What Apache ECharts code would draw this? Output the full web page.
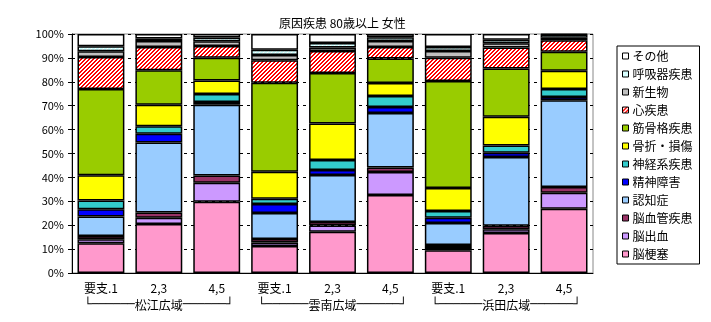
<!DOCTYPE html>
<html>
<head>
<meta charset="utf-8">
<script src="https://cdn.jsdelivr.net/npm/echarts@6/dist/echarts.min.js"></script>
<style>
  html, body { margin: 0; padding: 0; background: #fff; }
  #chart { width: 711px; height: 322px; }
</style>
</head>
<body>
<div id="chart"></div>
<script>
// Care level categories, grouped by region
const categories = ['要支.1', '2,3', '4,5', '要支.1', '2,3', '4,5', '要支.1', '2,3', '4,5'];
const regions = ['松江広域', '雲南広域', '浜田広域'];
const yTicks = [0, 10, 20, 30, 40, 50, 60, 70, 80, 90, 100];

// Share (%) of each cause, stacked bottom to top
const noukousoku   = [12.4, 20.5, 29.8, 11.3, 17.3, 32.6,  9.5, 16.7, 26.9]; // 脳梗塞
const noushukketsu = [ 1.7,  2.6,  8.0,  1.5,  2.6,  9.7,  1.0,  1.6,  6.7]; // 脳出血
const noukekkan    = [ 1.4,  2.2,  3.0,  1.4,  1.4,  1.8,  1.2,  1.5,  2.4]; // 脳血管疾患
const ninchisho    = [ 8.1, 29.3, 29.6, 10.9, 19.7, 22.8,  9.2, 28.7, 36.3]; // 認知症
const seishin      = [ 3.1,  3.7,  1.2,  3.8,  2.1,  2.6,  2.2,  1.8,  1.3]; // 精神障害
const shinkei      = [ 3.6,  3.1,  3.3,  2.2,  4.2,  4.6,  2.8,  3.0,  3.4]; // 神経系疾患
const kossetsu     = [10.6,  9.0,  5.6, 11.3, 15.3,  5.4,  9.7, 12.1,  7.6]; // 骨折・損傷
const kinkokkaku   = [36.1, 14.4,  9.6, 37.2, 21.1, 10.3, 44.7, 20.2,  8.0]; // 筋骨格疾患
const shinshikkan  = [13.4,  9.8,  4.9,  9.4,  9.2,  4.8,  9.8,  8.7,  4.8]; // 心疾患
const shinseibutsu = [ 2.4,  2.5,  2.0,  2.2,  1.4,  2.5,  2.8,  1.8,  1.0]; // 新生物
const kokyuki      = [ 2.1,  1.0,  1.5,  2.2,  1.9,  1.5,  1.7,  1.5,  1.4]; // 呼吸器疾患
const sonota       = [ 5.1,  1.9,  1.5,  6.6,  3.8,  1.4,  5.4,  2.4,  0.2]; // その他

const FONT = '"Noto Sans CJK JP", sans-serif';

// Small repeating canvas tiles for diagonal hatched fills
function hatch(bg, fg, size, thick) {
  const c = document.createElement('canvas');
  c.width = size; c.height = size;
  const g = c.getContext('2d');
  g.fillStyle = bg; g.fillRect(0, 0, size, size);
  g.fillStyle = fg;
  for (let i = 0; i < size; i++) {
    for (let t = 0; t < thick; t++) {
      g.fillRect((size - 1 - i + t) % size, i, 1, 1);
    }
  }
  return { image: c, repeat: 'repeat' };
}

const seriesDefs = [
  ['脳梗塞',     noukousoku,   '#FF99CC'],
  ['脳出血',     noushukketsu, '#CC99FF'],
  ['脳血管疾患', noukekkan,    '#993366'],
  ['認知症',     ninchisho,    '#99CCFF'],
  ['精神障害',   seishin,      '#0000FF'],
  ['神経系疾患', shinkei,      '#33CCCC'],
  ['骨折・損傷', kossetsu,     '#FFFF00'],
  ['筋骨格疾患', kinkokkaku,   '#99CC00'],
  ['心疾患',     shinshikkan,  hatch('#FFFFFF', '#FF0000', 4, 2)],
  ['新生物',     shinseibutsu, '#C0C0C0'],
  ['呼吸器疾患', kokyuki,      hatch('#CCFFFF', '#FFFFFF', 4, 1)],
  ['その他',     sonota,       '#FFFFFF']
];

const chart = echarts.init(document.getElementById('chart'), null, { renderer: 'canvas' });

// Region bracket drawn with box-drawing characters around the name
const bracket = name => '{b|└──────}' + name + '{b|──────┘}';

chart.setOption({
  animation: false,
  backgroundColor: '#fff',
  textStyle: { fontFamily: FONT },
  title: {
    text: '原因疾患 80歳以上 女性',
    left: 274, top: 12,
    textStyle: { fontFamily: FONT, fontSize: 12, fontWeight: 'normal', color: '#000' }
  },
  grid: {
    left: 72, right: 118, top: 34, bottom: 49,
    show: true, borderColor: '#888', borderWidth: 1, backgroundColor: 'transparent'
  },
  legend: {
    orient: 'vertical',
    left: 617, top: 46,
    padding: [4, 7, 4, 5],
    borderColor: '#000', borderWidth: 1,
    itemWidth: 6, itemHeight: 6, itemGap: 6,
    icon: 'rect',
    textStyle: { fontFamily: FONT, fontSize: 12, color: '#000', lineHeight: 12, padding: [0, 0, 0, -1] },
    data: seriesDefs.map(d => d[0]).reverse(),
    itemStyle: { borderColor: '#000', borderWidth: 1 }
  },
  xAxis: [
    {
      type: 'category', data: categories,
      axisLine: { lineStyle: { color: '#000', width: 1 } },
      axisTick: { show: false },
      axisLabel: { color: '#000', fontSize: 12, margin: 9, fontFamily: FONT, interval: 0 }
    },
    {
      type: 'category', data: regions, position: 'bottom', offset: 17,
      axisLine: { show: false }, axisTick: { show: false },
      axisLabel: {
        color: '#000', fontSize: 12, margin: 9, fontFamily: FONT,
        interval: 0, hideOverlap: false, overflow: 'none', width: 220,
        formatter: bracket,
        rich: {
          b: { fontFamily: '"DejaVu Sans Mono", monospace', fontSize: 12, color: '#000' }
        }
      }
    }
  ],
  yAxis: {
    type: 'value', min: yTicks[0], max: yTicks[yTicks.length - 1], interval: 10,
    axisLine: { show: true, lineStyle: { color: '#000', width: 1 } },
    axisTick: { show: true, length: 4, lineStyle: { color: '#000' } },
    axisLabel: { formatter: '{value}%', color: '#000', fontSize: 11, margin: 8, fontFamily: FONT },
    splitLine: { show: true, lineStyle: { color: '#000', type: [3, 4], width: 1 } }
  },
  series: seriesDefs.map(([name, values, color]) => ({
    name, type: 'bar', stack: 'total', xAxisIndex: 0,
    barCategoryGap: '19%',
    data: values,
    itemStyle: { color, borderColor: '#000', borderWidth: 1.5 }
  }))
});
</script>
</body>
</html>
